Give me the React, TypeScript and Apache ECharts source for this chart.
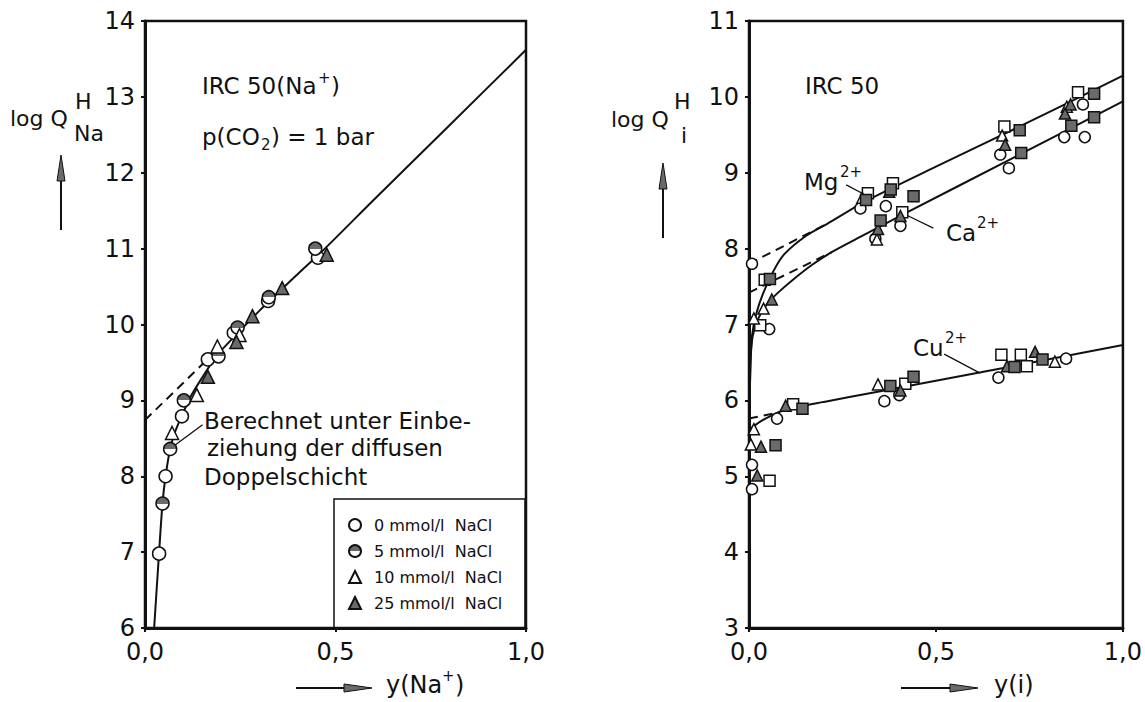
import React, { useEffect, useRef } from "react";
import * as echarts from "echarts";

// ---------- Left panel: IRC 50 (Na+) ----------
const leftYTicks = [6, 7, 8, 9, 10, 11, 12, 13, 14];
const leftCurve: number[][] = [
  [0.024, 6.0], [0.037, 7.0], [0.046, 7.65], [0.054, 8.0], [0.066, 8.36], [0.08, 8.6],
  [0.097, 8.8], [0.12, 9.05], [0.15, 9.3], [0.19, 9.6], [0.25, 9.92], [0.3, 10.18],
  [0.4, 10.66], [0.466, 10.97], [0.6, 11.64], [0.8, 12.63], [1.0, 13.62],
];
const leftDashed: number[][] = [[0.0, 8.74], [0.17, 9.57]];
const leftLeader: number[][] = [[0.073, 8.39], [0.151, 8.68]];
const na0: number[][] = [[0.454, 10.88], [0.323, 10.31], [0.233, 9.89], [0.165, 9.54], [0.097, 8.79], [0.054, 8.0], [0.037, 6.98]];
const na5: number[][] = [[0.447, 11.0], [0.325, 10.36], [0.243, 9.96], [0.193, 9.58], [0.102, 9.0], [0.066, 8.36], [0.046, 7.64]];
const na10: number[][] = [[0.248, 9.86], [0.19, 9.71], [0.136, 9.07], [0.071, 8.57]];
const na25: number[][] = [[0.477, 10.92], [0.36, 10.48], [0.282, 10.11], [0.24, 9.77], [0.165, 9.31]];
const legendNames = ["0 mmol/l  NaCl", "5 mmol/l  NaCl", "10 mmol/l  NaCl", "25 mmol/l  NaCl"];

// ---------- Right panel: IRC 50, Mg2+, Ca2+, Cu2+ ----------
const rightYTicks = [3, 4, 5, 6, 7, 8, 9, 10, 11];
const mgCurve: number[][] = [
  [0.0015, 5.8], [0.004, 6.5], [0.008, 6.85], [0.02, 7.15], [0.037, 7.4], [0.066, 7.71],
  [0.095, 7.93], [0.153, 8.17], [0.21, 8.33], [0.31, 8.62], [0.5, 9.08], [0.72, 9.6], [1.0, 10.28],
];
const mgDashed: number[][] = [[0.0, 7.8], [0.21, 8.33]];
const caCurve: number[][] = [
  [0.0015, 5.8], [0.004, 6.5], [0.01, 6.85], [0.025, 7.08], [0.05, 7.28], [0.08, 7.43],
  [0.12, 7.6], [0.17, 7.79], [0.22, 7.95], [0.3, 8.16], [0.42, 8.47], [0.7, 9.18], [1.0, 9.94],
];
const caDashed: number[][] = [[0.0, 7.42], [0.22, 7.95]];
const cuCurve: number[][] = [
  [0.002, 5.62], [0.03, 5.72], [0.06, 5.8], [0.1, 5.88], [0.2, 5.98], [0.33, 6.1], [0.62, 6.37], [1.0, 6.73],
];
const cuDashed: number[][] = [[0.0, 5.76], [0.08, 5.84]];
const mgLeader: number[][] = [[0.26, 8.84], [0.31, 8.71]];
const caLeader: number[][] = [[0.493, 8.27], [0.422, 8.44]];
const cuLeader: number[][] = [[0.522, 6.61], [0.618, 6.36]];

const rOpenCircle: number[][] = [
  [0.008, 7.8], [0.054, 6.94], [0.298, 8.53], [0.366, 8.56], [0.338, 8.13], [0.405, 8.3],
  [0.672, 9.24], [0.695, 9.06], [0.843, 9.47], [0.898, 9.47], [0.893, 9.9],
  [0.008, 5.15], [0.008, 4.83], [0.075, 5.76], [0.362, 5.99], [0.402, 6.07], [0.667, 6.3], [0.848, 6.55],
];
const rOpenSquare: number[][] = [
  [0.042, 7.59], [0.03, 6.99], [0.318, 8.73], [0.385, 8.86], [0.41, 8.48], [0.683, 9.61], [0.88, 10.06],
  [0.055, 4.94], [0.118, 5.95], [0.418, 6.22], [0.675, 6.6], [0.727, 6.6], [0.743, 6.45],
];
const rOpenTri: number[][] = [
  [0.013, 7.08], [0.039, 7.21], [0.303, 8.67], [0.342, 8.12], [0.677, 9.49], [0.85, 9.87],
  [0.013, 5.62], [0.005, 5.42], [0.345, 6.21], [0.818, 6.51],
];
const rFillTri: number[][] = [
  [0.061, 7.33], [0.375, 8.75], [0.345, 8.26], [0.405, 8.43], [0.685, 9.37], [0.86, 9.9], [0.845, 9.78],
  [0.032, 5.39], [0.022, 5.01], [0.098, 5.93], [0.405, 6.13], [0.69, 6.45], [0.765, 6.64],
];
const rFillSquare: number[][] = [
  [0.056, 7.6], [0.313, 8.64], [0.379, 8.78], [0.44, 8.69], [0.352, 8.37], [0.724, 9.56], [0.728, 9.26],
  [0.923, 10.04], [0.862, 9.62], [0.923, 9.73],
  [0.071, 5.41], [0.143, 5.89], [0.378, 6.19], [0.44, 6.31], [0.71, 6.44], [0.785, 6.54],
];

const FONT = "DejaVu Sans";
const INK = "#111";
const GRAY = "#6a6a6a";

function line(data: number[][], idx: number, dashed = false, width = 2) {
  return {
    type: "line", xAxisIndex: idx, yAxisIndex: idx, data, symbol: "none", smooth: dashed ? false : 0.25,
    silent: true, z: 2,
    lineStyle: { color: INK, width, type: dashed ? [9, 6] : "solid" },
  };
}
function scatter(name: string | undefined, data: number[][], idx: number, symbol: string, color: any, size: number) {
  return {
    type: "scatter", name, xAxisIndex: idx, yAxisIndex: idx, data, symbol, symbolSize: size, z: 4,
    itemStyle: { color, borderColor: INK, borderWidth: 1.5, opacity: 1 },
  };
}
const halfFill = {
  type: "linear", x: 0, y: 0, x2: 0, y2: 1,
  colorStops: [
    { offset: 0, color: GRAY }, { offset: 0.5, color: GRAY },
    { offset: 0.5, color: "#fff" }, { offset: 1, color: "#fff" },
  ],
};

function xAxis(idx: number) {
  return {
    type: "value", gridIndex: idx, min: 0, max: 1, interval: 0.5,
    axisLine: { show: true, lineStyle: { color: INK, width: 3 } },
    axisTick: { show: true, length: 4, lineStyle: { color: INK, width: 2 } },
    splitLine: { show: false },
    axisLabel: {
      color: INK, fontSize: 24, fontFamily: FONT, margin: 12,
      formatter: (v: number) => v.toFixed(1).replace(".", ","),
    },
  };
}
function yAxis(idx: number, ticks: number[]) {
  return {
    type: "value", gridIndex: idx, min: ticks[0], max: ticks[ticks.length - 1], interval: 1,
    axisLine: { show: true, lineStyle: { color: INK, width: 3 } },
    axisTick: { show: true, length: 4, lineStyle: { color: INK, width: 2 } },
    splitLine: { show: false },
    axisLabel: { color: INK, fontSize: 24, fontFamily: FONT, margin: 10 },
  };
}

function text(left: number, top: number, t: string, size: number) {
  return {
    type: "text", left, top, silent: true,
    style: { text: t, fill: INK, font: `${size}px "${FONT}"` },
  };
}
function arrowUp(x: number, y1: number, y2: number) {
  return {
    type: "group", silent: true, children: [
      { type: "line", shape: { x1: x, y1, x2: x, y2: y2 + 18 }, style: { stroke: INK, lineWidth: 2 } },
      { type: "polygon", shape: { points: [[x, y2], [x - 4, y2 + 26], [x + 4, y2 + 26]] }, style: { fill: GRAY, stroke: INK, lineWidth: 1 } },
    ],
  };
}
function arrowRight(y: number, x1: number, x2: number) {
  return {
    type: "group", silent: true, children: [
      { type: "line", shape: { x1, y1: y, x2: x2 - 18, y2: y }, style: { stroke: INK, lineWidth: 2 } },
      { type: "polygon", shape: { points: [[x2, y], [x2 - 28, y - 4], [x2 - 28, y + 4]] }, style: { fill: GRAY, stroke: INK, lineWidth: 1 } },
    ],
  };
}

export default function App() {
  const ref = useRef<HTMLDivElement>(null);
  useEffect(() => {
    if (!ref.current) return;
    const chart = echarts.init(ref.current, null, { renderer: "svg" });
    const option: any = {
      animation: false,
      backgroundColor: "#fff",
      grid: [
        { left: 145, right: 1145 - 526, top: 21, bottom: 702 - 628, show: true, borderColor: INK, borderWidth: 2.5 },
        { left: 749, right: 1145 - 1130, top: 21, bottom: 702 - 628, show: true, borderColor: INK, borderWidth: 2.5 },
      ],
      xAxis: [xAxis(0), xAxis(1)],
      yAxis: [yAxis(0, leftYTicks), yAxis(1, rightYTicks)],
      legend: {
        data: legendNames, orient: "vertical", left: 343, top: 512, itemGap: 10,
        itemWidth: 12, itemHeight: 12, selectedMode: false,
        textStyle: { fontSize: 16, fontFamily: FONT, color: INK, padding: [0, 0, 0, 8] },
      },
      series: [
        line(leftCurve, 0), line(leftDashed, 0, true), line(leftLeader, 0, false, 1.3),
        scatter(legendNames[0], na0, 0, "circle", "#fff", 13),
        scatter(legendNames[1], na5, 0, "circle", halfFill, 13),
        scatter(legendNames[2], na10, 0, "triangle", "#fff", 13),
        scatter(legendNames[3], na25, 0, "triangle", GRAY, 13),
        line(mgCurve, 1), line(mgDashed, 1, true), line(caCurve, 1), line(caDashed, 1, true),
        line(cuCurve, 1), line(cuDashed, 1, true),
        line(mgLeader, 1, false, 1.3), line(caLeader, 1, false, 1.3), line(cuLeader, 1, false, 1.3),
        scatter(undefined, rOpenCircle, 1, "circle", "#fff", 11),
        scatter(undefined, rOpenSquare, 1, "rect", "#fff", 11),
        scatter(undefined, rOpenTri, 1, "triangle", "#fff", 11),
        scatter(undefined, rFillTri, 1, "triangle", GRAY, 11),
        scatter(undefined, rFillSquare, 1, "rect", GRAY, 11),
      ],
      graphic: [
        // legend frame
        { type: "rect", silent: true, shape: { x: 334, y: 499, width: 191, height: 129 }, style: { fill: "none", stroke: INK, lineWidth: 1.5 }, z: 10 },
        // left y label
        text(10, 107, "log Q", 22),
        text(75, 90, "H", 22),
        text(74, 122, "Na", 22),
        arrowUp(61, 230, 155),
        // left x label
        arrowRight(688, 296, 372),
        text(386, 673, "y(Na", 24),
        text(442, 668, "+", 15),
        text(455, 673, ")", 24),
        // left annotations
        text(202, 74, "IRC 50(Na", 23),
        text(318, 70, "+", 15),
        text(331, 74, ")", 23),
        text(202, 125, "p(CO", 23),
        text(261, 137, "2", 15),
        text(271, 125, ") = 1 bar", 23),
        text(204, 409, "Berechnet unter Einbe-", 23),
        text(207, 436, "ziehung der diffusen", 23),
        text(204, 465, "Doppelschicht", 23),
        // right y label
        text(611, 108, "log Q", 22),
        text(674, 90, "H", 22),
        text(681, 124, "i", 22),
        arrowUp(663, 238, 163),
        // right x label
        arrowRight(688, 901, 978),
        text(994, 673, "y(i)", 24),
        // right annotations
        text(805, 74, "IRC 50", 23),
        text(804, 170, "Mg", 23),
        text(840, 164, "2+", 15),
        text(946, 221, "Ca", 23),
        text(977, 215, "2+", 15),
        text(913, 336, "Cu", 23),
        text(945, 330, "2+", 15),
      ],
    };
    chart.setOption(option);
    return () => chart.dispose();
  }, []);
  return (
    <div
      ref={ref}
      style={{ position: "fixed", left: 0, top: 0, width: 1145, height: 702, background: "#fff" }}
    />
  );
}
